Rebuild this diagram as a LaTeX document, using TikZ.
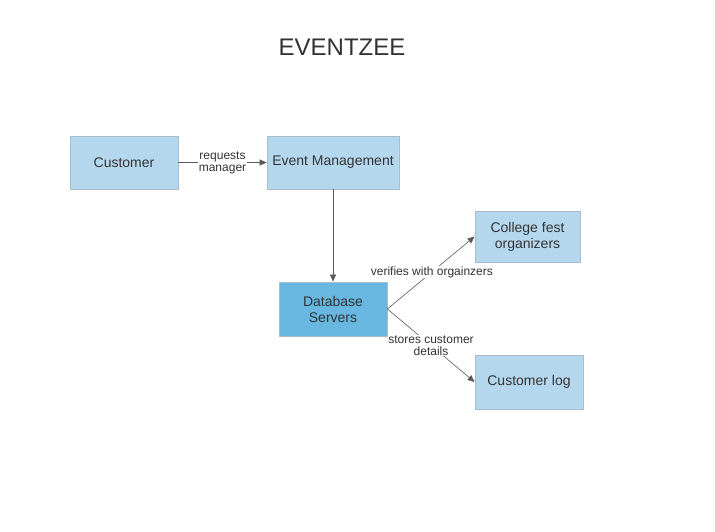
\documentclass[tikz,border=0pt]{standalone}
\usepackage{fontspec}
\setmainfont{Liberation Sans}
\usetikzlibrary{arrows.meta}
\definecolor{boxfill}{HTML}{B5D7EE}
\definecolor{boxdark}{HTML}{67B7E1}
\definecolor{boxline}{HTML}{A7BCCC}
\definecolor{wire}{HTML}{5A5A5A}
\definecolor{ink}{HTML}{333333}
\tikzset{
  box/.style={draw=boxline, fill=boxfill, line width=0.8pt, align=center, text=ink,
    font=\fontsize{14}{16}\selectfont, inner sep=0pt},
  lbl/.style={fill=white, align=center, text=ink, inner sep=0.5pt,
    font=\fontsize{12}{12}\selectfont},
  link/.style={draw=wire, line width=0.6pt, -{Triangle[length=7pt,width=6pt]}}
}
\begin{document}
\begin{tikzpicture}[x=1pt,y=-1pt]
            \useasboundingbox (0,0) rectangle (715,532);
            % Title
            \node[text=ink, font=\fontsize{24}{24}\selectfont] (T) at (342,47) {EVENTZEE};
            % Boxes
            \node[box, minimum width=108pt, minimum height=53pt] (C) at (124,162.5) {Customer};
            \node[box, minimum width=132pt, minimum height=53pt] (E) at (333,162.5) {Event Management};
            \node[box, fill=boxdark, minimum width=108pt, minimum height=54pt] (D) at (333,309) {Database\\Servers};
            \node[box, minimum width=105pt, minimum height=51pt] (O) at (527.5,236.5) {College fest\\organizers};
            \node[box, minimum width=108pt, minimum height=54pt] (L) at (529,382) {Customer log};
            % Links
            \draw[link] (C.east) -- node[lbl] {requests\\manager} (E.west);
            \draw[link] (E.south) -- (D.north);
            \draw[link] (D.east) -- node[lbl, pos=0.51] {verifies with orgainzers} (O.west);
            \draw[link] (D.east) -- node[lbl, pos=0.5] {stores customer\\details} (L.west);
        \end{tikzpicture}
\end{document}
